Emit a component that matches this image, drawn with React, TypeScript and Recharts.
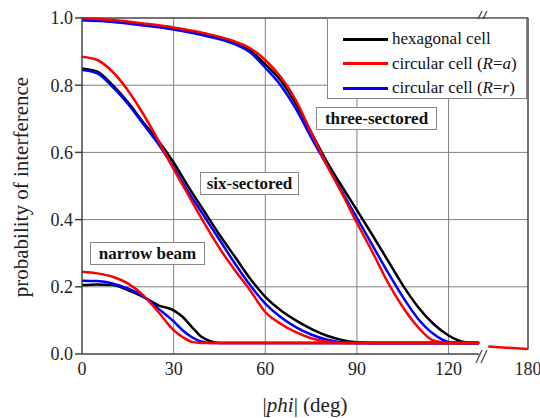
import { LineChart, Line, XAxis, YAxis, CartesianGrid, ReferenceLine, Legend } from 'recharts';

// three-sectored antenna
const threePhi = [0, 10, 20, 30, 40, 50, 55, 60, 65, 70, 75, 80, 85, 90, 95, 100, 105, 110, 115, 120, 125, 130];
const threeHex = [0.995, 0.99, 0.98, 0.968, 0.95, 0.925, 0.903, 0.862, 0.815, 0.745, 0.66, 0.575, 0.5, 0.428, 0.355, 0.28, 0.205, 0.14, 0.09, 0.055, 0.036, 0.033];
const threeCircA = [0.999, 0.994, 0.984, 0.972, 0.955, 0.93, 0.91, 0.875, 0.825, 0.755, 0.66, 0.565, 0.48, 0.39, 0.305, 0.215, 0.14, 0.08, 0.04, 0.033, 0.033, 0.033];
const threeCircR = [0.993, 0.988, 0.978, 0.966, 0.948, 0.922, 0.898, 0.852, 0.8, 0.73, 0.645, 0.565, 0.485, 0.405, 0.325, 0.245, 0.17, 0.105, 0.06, 0.036, 0.033, 0.033];

// six-sectored antenna
const sixPhi = [0, 5, 10, 15, 20, 25, 30, 35, 40, 45, 50, 55, 60, 65, 70, 75, 80, 85, 90, 95, 130];
const sixHex = [0.85, 0.84, 0.8, 0.75, 0.69, 0.635, 0.57, 0.495, 0.425, 0.355, 0.29, 0.225, 0.17, 0.13, 0.1, 0.075, 0.055, 0.042, 0.035, 0.033, 0.033];
const sixCircA = [0.885, 0.875, 0.84, 0.785, 0.715, 0.635, 0.55, 0.47, 0.39, 0.315, 0.25, 0.19, 0.125, 0.09, 0.065, 0.047, 0.037, 0.033, 0.033, 0.033, 0.033];
const sixCircR = [0.845, 0.835, 0.795, 0.745, 0.685, 0.625, 0.555, 0.48, 0.41, 0.34, 0.27, 0.205, 0.15, 0.11, 0.08, 0.058, 0.043, 0.035, 0.033, 0.033, 0.033];

// narrow beam
const narrowPhi = [0, 5, 10, 15, 20, 25, 30, 33, 36, 39, 42, 45, 130];
const narrowHex = [0.205, 0.207, 0.205, 0.19, 0.17, 0.145, 0.13, 0.11, 0.08, 0.052, 0.038, 0.033, 0.033];
const narrowCircA = [0.245, 0.24, 0.23, 0.21, 0.175, 0.125, 0.071, 0.05, 0.036, 0.033, 0.033, 0.033, 0.033];
const narrowCircR = [0.218, 0.217, 0.21, 0.195, 0.172, 0.135, 0.097, 0.07, 0.05, 0.037, 0.033, 0.033, 0.033];

// past the axis break
const tailPhi = [150, 180];
const tailCircA = [0.022, 0.015];

const xTicks = [0, 30, 60, 90, 120, 180];
const yTicks = [0, 0.2, 0.4, 0.6, 0.8, 1.0];

const legendItems = [
  { color: '#000000', label: 'hexagonal cell', r: '' },
  { color: '#ff0000', label: 'circular cell (', r: 'a' },
  { color: '#0000ff', label: 'circular cell (', r: 'r' },
];

const FONT = 'Liberation Serif';

// broken axis: 0..130 linear, then 150..180 squeezed after the break
const toPos = (phi: number) => (phi <= 130 ? phi : 133 + ((phi - 150) * 13) / 30);
const series = (phi: number[], vals: number[]) => phi.map((p, i) => ({ x: toPos(p), y: vals[i] }));

const blackSeries = [series(threePhi, threeHex), series(sixPhi, sixHex), series(narrowPhi, narrowHex)];
const blueSeries = [series(threePhi, threeCircR), series(sixPhi, sixCircR), series(narrowPhi, narrowCircR)];
const redSeries = [series(threePhi, threeCircA), series(sixPhi, sixCircA), series(narrowPhi, narrowCircA), series(tailPhi, tailCircA)];

const LegendBox = () => (
  <div
    style={{
      width: 200,
      height: 81,
      boxSizing: 'border-box',
      border: '1px solid #888',
      background: '#fff',
      paddingTop: 8,
      fontFamily: FONT,
      fontSize: 17,
      color: '#111',
    }}
  >
    {legendItems.map((it) => (
      <div key={it.color} style={{ height: 24.5, display: 'flex', alignItems: 'center' }}>
        <div style={{ marginLeft: 15, width: 45, height: 3, background: it.color }} />
        <span style={{ marginLeft: 4, whiteSpace: 'nowrap' }}>
          {it.label}
          {it.r && (
            <>
              <i>R</i>=<i>{it.r}</i>)
            </>
          )}
        </span>
      </div>
    ))}
  </div>
);

const tag = (text: string, left: number, top: number, width: number) => (
  <div
    style={{
      position: 'absolute',
      left,
      top,
      width,
      height: 23,
      boxSizing: 'border-box',
      border: '1px solid #888',
      background: '#fff',
      fontFamily: FONT,
      fontWeight: 'bold',
      fontSize: 17,
      lineHeight: '21px',
      textAlign: 'center',
      color: '#111',
    }}
  >
    {text}
  </div>
);

export default function App() {
  return (
    <div style={{ position: 'absolute', left: 0, top: 0, width: 540, height: 418, background: '#fff' }}>
      <LineChart width={540} height={418} margin={{ top: 18, right: 12, left: 0, bottom: 0 }}>
        <CartesianGrid stroke="#808080" strokeWidth={1} horizontalValues={[0.2, 0.4, 0.6, 0.8]} verticalValues={[30, 60, 90, 120]} />
        <XAxis
          type="number"
          dataKey="x"
          domain={[0, 146]}
          ticks={xTicks.map(toPos)}
          tickFormatter={(v: number) => (v > 140 ? '180' : String(v))}
          axisLine={false}
          tickLine={false}
          tickSize={0}
          tickMargin={8}
          height={64}
          interval={0}
          tick={{ fontFamily: FONT, fontSize: 18, fill: '#222' }}
          label={{
            position: 'insideBottom',
            content: () => (
              <text x={305} y={412} textAnchor="middle" fontFamily={FONT} fontSize={21} fill="#222">
                |<tspan fontStyle="italic">phi</tspan>| (deg)
              </text>
            ),
          }}
          allowDataOverflow
        />
        <YAxis
          type="number"
          domain={[0, 1]}
          ticks={yTicks}
          tickFormatter={(v: number) => v.toFixed(1)}
          width={82}
          stroke="#444"
          strokeWidth={1.5}
          tickSize={7}
          tickMargin={2}
          interval={0}
          tick={{ fontFamily: FONT, fontSize: 18, fill: '#222' }}
          label={{
            position: 'insideLeft',
            content: () => (
              <text x={28} y={187} transform="rotate(-90 28 187)" textAnchor="middle" fontFamily={FONT} fontSize={21} fill="#222">
                probability of interference
              </text>
            ),
          }}
        />
        <ReferenceLine y={1} stroke="#444" strokeWidth={1.5} />
        <ReferenceLine segment={[{ x: 0, y: 0 }, { x: 130, y: 0 }]} stroke="#444" strokeWidth={1.5} ifOverflow="visible" />
        <ReferenceLine segment={[{ x: 146, y: 1 }, { x: 146, y: 0.013 }]} stroke="#444" strokeWidth={1.5} ifOverflow="visible" />
        {blackSeries.map((d, i) => (
          <Line key={`k${i}`} data={d} dataKey="y" type="monotone" stroke="#000000" strokeWidth={2.5} dot={false} isAnimationActive={false} />
        ))}
        {blueSeries.map((d, i) => (
          <Line key={`b${i}`} data={d} dataKey="y" type="monotone" stroke="#0000ff" strokeWidth={2.5} dot={false} isAnimationActive={false} />
        ))}
        {redSeries.map((d, i) => (
          <Line key={`r${i}`} data={d} dataKey="y" type={i === 3 ? 'linear' : 'monotone'} stroke="#ff0000" strokeWidth={2.5} dot={false} isAnimationActive={false} />
        ))}
        <Legend
          layout="horizontal"
          verticalAlign="middle"
          align="center"
          content={() => <LegendBox />}
          wrapperStyle={{ left: 327, top: 18, width: 200, height: 81 }}
        />
      </LineChart>
      {tag('three-sectored', 316, 107, 121)}
      {tag('six-sectored', 200, 172, 99)}
      {tag('narrow beam', 90, 242, 115)}
      <svg width={540} height={418} style={{ position: 'absolute', left: 0, top: 0, pointerEvents: 'none' }}>
        <g stroke="#444" strokeWidth={1.2}>
          <line x1={478} y1={19} x2={482} y2={11} />
          <line x1={483} y1={19} x2={487} y2={11} />
          <line x1={476} y1={363} x2={482} y2={350} />
          <line x1={481} y1={363} x2={487} y2={350} />
        </g>
      </svg>
    </div>
  );
}
